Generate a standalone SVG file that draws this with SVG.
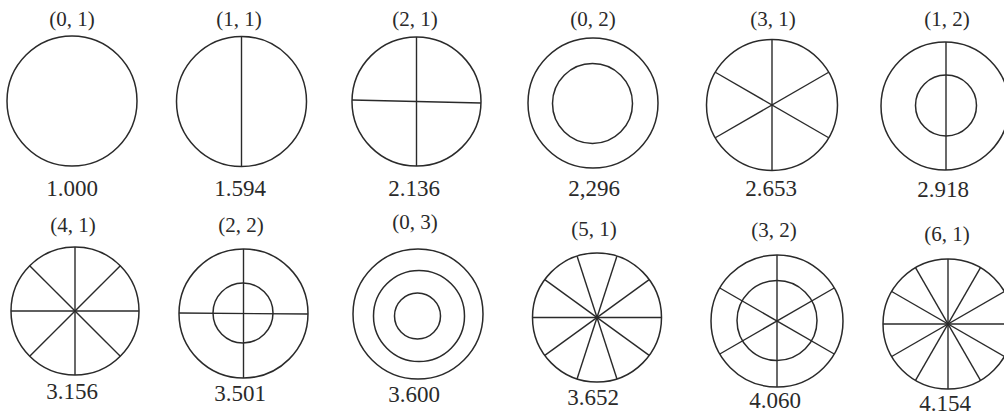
<svg xmlns="http://www.w3.org/2000/svg" width="1004" height="419" viewBox="0 0 1004 419">
<style>
.c{fill:none;stroke:#2a2a2a;stroke-width:1.5}
.s{stroke:#2a2a2a;stroke-width:1.4}
.l{font-family:"Liberation Serif","Times New Roman",serif;font-size:21px;fill:#2a2a2a;text-anchor:middle}
.n{font-family:"Liberation Serif","Times New Roman",serif;font-size:23px;fill:#2a2a2a;text-anchor:middle}
</style>
<rect width="1004" height="419" fill="#fff"/>
<g id="n01">
<circle class="c" cx="72" cy="101" r="65"/>
<text class="l" x="72" y="26">(0, 1)</text>
<text class="n" x="72" y="196">1.000</text>
</g>
<g id="n11">
<circle class="c" cx="241.5" cy="101.5" r="65"/>
<line class="s" x1="241.5" y1="36.5" x2="241.5" y2="166.5"/>
<text class="l" x="239" y="26">(1, 1)</text>
<text class="n" x="240" y="196">1.594</text>
</g>
<g id="n21">
<circle class="c" cx="416.5" cy="101.5" r="64.5"/>
<line class="s" x1="416.5" y1="37" x2="416.5" y2="166"/>
<line class="s" x1="352" y1="100" x2="481" y2="103"/>
<text class="l" x="415" y="26">(2, 1)</text>
<text class="n" x="414" y="196">2.136</text>
</g>
<g id="n02">
<circle class="c" cx="593" cy="103" r="65"/>
<circle class="c" cx="592.5" cy="103.5" r="40"/>
<text class="l" x="593" y="26">(0, 2)</text>
<text class="n" x="594" y="196">2,296</text>
</g>
<g id="n31">
<circle class="c" cx="772" cy="105" r="65.5"/>
<line class="s" x1="772" y1="39.5" x2="772" y2="170.5"/>
<line class="s" x1="715.3" y1="72.25" x2="828.7" y2="137.75"/>
<line class="s" x1="715.3" y1="137.75" x2="828.7" y2="72.25"/>
<text class="l" x="773" y="26">(3, 1)</text>
<text class="n" x="771" y="196">2.653</text>
</g>
<g id="n12">
<circle class="c" cx="945" cy="106" r="64"/>
<circle class="c" cx="946" cy="105.5" r="30.5"/>
<line class="s" x1="946" y1="42" x2="946" y2="170"/>
<text class="l" x="947" y="26">(1, 2)</text>
<text class="n" x="943" y="197">2.918</text>
</g>
<g id="n41">
<circle class="c" cx="75" cy="311" r="64"/>
<line class="s" x1="11" y1="311" x2="139" y2="311"/>
<line class="s" x1="75" y1="247" x2="75" y2="375"/>
<line class="s" x1="29.7" y1="265.7" x2="120.3" y2="356.3"/>
<line class="s" x1="29.7" y1="356.3" x2="120.3" y2="265.7"/>
<text class="l" x="73" y="232">(4, 1)</text>
<text class="n" x="72" y="399">3.156</text>
</g>
<g id="n22">
<circle class="c" cx="243.5" cy="313.5" r="64.5"/>
<circle class="c" cx="243" cy="313" r="30"/>
<line class="s" x1="179" y1="313" x2="308" y2="314"/>
<line class="s" x1="243.5" y1="249" x2="243.5" y2="378"/>
<text class="l" x="241" y="232">(2, 2)</text>
<text class="n" x="240" y="401">3.501</text>
</g>
<g id="n03">
<circle class="c" cx="418" cy="314" r="65"/>
<circle class="c" cx="419" cy="316" r="45.5"/>
<circle class="c" cx="417.5" cy="316" r="23"/>
<text class="l" x="415" y="229">(0, 3)</text>
<text class="n" x="414" y="402">3.600</text>
</g>
<g id="n51">
<circle class="c" cx="597" cy="317.5" r="64.5"/>
<line class="s" x1="532.5" y1="317.5" x2="661.5" y2="317.5"/>
<line class="s" x1="544.8" y1="279.6" x2="649.2" y2="355.4"/>
<line class="s" x1="577.1" y1="256.2" x2="616.9" y2="378.8"/>
<line class="s" x1="616.9" y1="256.2" x2="577.1" y2="378.8"/>
<line class="s" x1="649.2" y1="279.6" x2="544.8" y2="355.4"/>
<text class="l" x="594" y="236">(5, 1)</text>
<text class="n" x="593" y="405">3.652</text>
</g>
<g id="n32">
<circle class="c" cx="777" cy="321" r="66"/>
<circle class="c" cx="777" cy="320.5" r="40"/>
<line class="s" x1="777" y1="255" x2="777" y2="387"/>
<line class="s" x1="719.8" y1="288" x2="834.2" y2="354"/>
<line class="s" x1="719.8" y1="354" x2="834.2" y2="288"/>
<text class="l" x="774" y="237">(3, 2)</text>
<text class="n" x="775" y="408">4.060</text>
</g>
<g id="n61">
<circle class="c" cx="948" cy="324" r="65"/>
<line class="s" x1="883" y1="324" x2="1013" y2="324"/>
<line class="s" x1="948" y1="259" x2="948" y2="389"/>
<line class="s" x1="891.7" y1="291.5" x2="1004.3" y2="356.5"/>
<line class="s" x1="915.5" y1="267.7" x2="980.5" y2="380.3"/>
<line class="s" x1="980.5" y1="267.7" x2="915.5" y2="380.3"/>
<line class="s" x1="1004.3" y1="291.5" x2="891.7" y2="356.5"/>
<text class="l" x="947" y="241">(6, 1)</text>
<text class="n" x="945" y="411">4.154</text>
</g>
<g id="connectors"/>
</svg>
